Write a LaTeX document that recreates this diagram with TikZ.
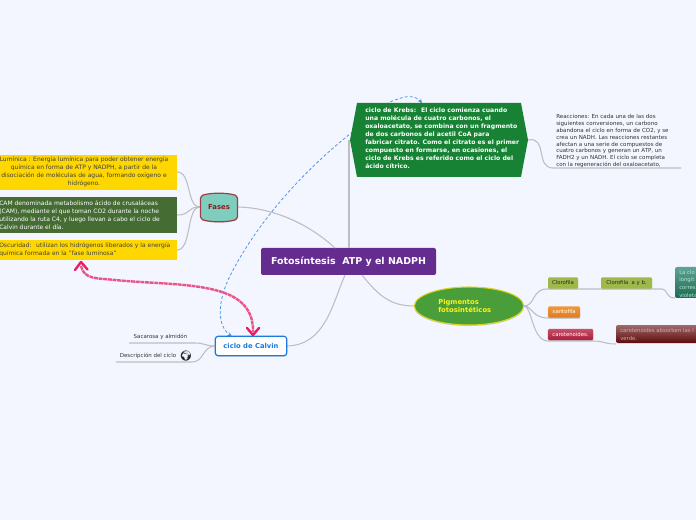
\documentclass[tikz,border=0pt]{standalone}
\usepackage{fontspec}
\setmainfont{DejaVu Sans}
\newfontfamily\emojifont{Noto Emoji}
\usetikzlibrary{arrows.meta,shapes.geometric,shadows}
\definecolor{bgc}{HTML}{F4F6FF}
\definecolor{conn}{HTML}{BDBDC2}
\definecolor{titlec}{HTML}{652C8F}
\definecolor{krebsc}{HTML}{178234}
\definecolor{yelc}{HTML}{FFD700}
\definecolor{camc}{HTML}{456C33}
\definecolor{tealc}{HTML}{7FCDBE}
\definecolor{redd}{HTML}{8B2020}
\definecolor{pigc}{HTML}{4A9E3A}
\definecolor{pinkc}{HTML}{E8558A}
\definecolor{pinkd}{HTML}{E81E63}
\definecolor{bluec}{HTML}{1C7BE0}
\definecolor{dashc}{HTML}{4F95E8}
\definecolor{olivec}{HTML}{9FB84A}
\definecolor{orgt}{HTML}{EE9A3C}
\definecolor{orgb}{HTML}{E07A1E}
\definecolor{cart}{HTML}{C8506A}
\definecolor{carb}{HTML}{A81E3A}
\definecolor{tealt}{HTML}{5FA394}
\definecolor{tealb}{HTML}{1B6B50}
\definecolor{tealx}{HTML}{BFE0D4}
\definecolor{brnt}{HTML}{A06A6A}
\definecolor{brnb}{HTML}{5C0A0A}
\definecolor{brnx}{HTML}{D8A8A8}
\tikzset{
  link/.style={draw=conn,line width=0.8pt},
  txt/.style={font=\fontsize{4.5pt}{6pt}\selectfont,inner sep=0pt},
  tagbox/.style={rounded corners=1pt,inner sep=0pt,minimum height=8.5pt,font=\fontsize{4pt}{5pt}\selectfont,drop shadow={shadow xshift=0.3pt,shadow yshift=-0.5pt,opacity=0.2}},
  dashl/.style={draw=dashc,line width=0.6pt,dash pattern=on 2.2pt off 1.6pt},
  pinkl/.style={draw=pinkc,line width=1.8pt,dash pattern=on 3pt off 0.5pt},
  pinka/.style={draw=pinkd,line width=1.8pt,line cap=round,line join=round}
}
\begin{document}
\begin{tikzpicture}[x=0.75pt,y=-0.75pt]
\useasboundingbox (0,0) rectangle (696,520);
\clip (0,0) rectangle (696,520);
\fill[bgc] (0,0) rectangle (696,520);

\node[fill=titlec,rounded corners=1.5pt,text=white,inner sep=0pt,minimum width=131.25pt,minimum height=20.25pt,font=\bfseries\fontsize{7.1pt}{9pt}\selectfont] (title) at (348.5,261.5) {Fotosíntesis~ ATP y el NADPH};

\coordinate (fasesE) at (238,207);
\coordinate (krebsE) at (528,140);
\coordinate (calvE) at (287,346);
\coordinate (pigW) at (414,306);
\coordinate (reacS) at (553,168);
\coordinate (reacE) at (681,168);
\coordinate (titleF) at (335,248);
\coordinate (titleK) at (349,248);
\coordinate (titleC) at (345,275);
\coordinate (titleP) at (362,275);
\coordinate (krebsW) at (349,140);

% main connectors
\draw[link] (fasesE) .. controls (275,208) and (310,225) .. (titleF);
\draw[link,line width=1.2pt] (titleK) -- (krebsW);
\draw[link] (titleC) .. controls (332,305) and (325,345) .. (calvE);
\draw[link] (titleP) .. controls (378,295) and (390,306) .. (pigW);
\draw[link] (krebsE) .. controls (548,136) and (535,168) .. (reacS) -- (reacE);

% relationship behind Krebs
\draw[dashl] (231,336) .. controls (216,326) and (217,300) .. (232,272) .. controls (262,215) and (310,165) .. (355,130) .. controls (372,115) and (385,102) .. (398,99) .. controls (409,95) and (416,96) .. (421,102);
\draw[draw=dashc,line width=0.7pt,-{Stealth[length=3.5pt,width=3pt]}] (419.5,100) -- (422,103.5);
\draw[draw=dashc,line width=0.7pt,-{Stealth[length=3.5pt,width=3pt]}] (229,334.5) -- (232,336.5);

% Krebs node
\fill[krebsc] (350,140) -- (357,103) -- (521,103) -- (528,140) -- (521,177) -- (357,177) -- cycle;
\node[txt,text=white,anchor=north west,align=left,font=\bfseries\fontsize{4.6pt}{6pt}\selectfont] (krebs) at (365,107.5) {ciclo de Krebs:~ El ciclo comienza cuando\\una molécula de cuatro carbonos, el\\oxaloacetato, se combina con un fragmento\\de dos carbonos del acetil CoA para\\fabricar citrato. Como el citrato es el primer\\compuesto en formarse, en ocasiones, el\\ciclo de Krebs es referido como el ciclo del\\ácido cítrico.};

% Reacciones
\node[txt,text=black!80,anchor=north west,align=left,font=\fontsize{4.15pt}{5.1pt}\selectfont] (reac) at (556,114.5) {Reacciones: En cada una de las dos\\siguientes conversiones, un carbono\\abandona el ciclo en forma de CO2, y se\\crea un NADH. Las reacciones restantes\\afectan a una serie de compuestos de\\cuatro carbonos y generan un ATP, un\\FADH2 y un NADH. El ciclo se completa\\con la regeneración del oxaloacetato,};

% Fases branches
\node[txt,fill=yelc,minimum width=132.75pt,minimum height=26.25pt] (lum) at (88.5,172.5) {};
\node[txt,text=black!75,align=center] (lumt) at (84,172) {Lumínica : Energía lumínica para poder obtener energía\\química en forma de ATP y NADPH, a partir de la\\disociación de moléculas de agua, formando oxígeno e\\hidrógeno.};
\node[txt,fill=camc,minimum width=132.75pt,minimum height=27pt] (cam) at (88.5,215) {};
\node[txt,text=white,anchor=west,align=left] (camt) at (-1,215) {CAM denominada metabolismo ácido de crusaláceas\\(CAM), mediante el que toman CO2 durante la noche\\utilizando la ruta C4, y luego llevan a cabo el ciclo de\\Calvin durante el día.};
\node[txt,fill=yelc,minimum width=132.75pt,minimum height=15pt] (osc) at (88.5,250) {};
\node[txt,text=black!75,anchor=west,align=left] (osct) at (-1,250) {Oscuridad:~ utilizan los hidrógenos liberados y la energía\\química formada en la "fase luminosa"};
\coordinate (lumE) at (177,172);
\coordinate (camE) at (177,215);
\coordinate (oscE) at (177,250);
\coordinate (fasesW) at (200,207);
\draw[link] (fasesW) .. controls (186,207) and (192,172) .. (lumE);
\draw[link] (fasesW) .. controls (186,207) and (192,215) .. (camE);
\draw[link] (fasesW) .. controls (186,207) and (192,250) .. (oscE);

% Fases node
\filldraw[fill=tealc,draw=redd!85,line width=0.9pt,rounded corners=1.5pt,drop shadow={shadow xshift=0.3pt,shadow yshift=-0.7pt,opacity=0.25}] (200.5,196) .. controls (210,192.5) and (228,192.5) .. (237.5,196) -- (237.5,219) .. controls (228,222.5) and (210,222.5) .. (200.5,219) -- cycle;
\node[txt,text=redd,font=\bfseries\fontsize{5.2pt}{6pt}\selectfont] (fases) at (219,207.5) {Fases};

% Calvin
\node[draw=bluec,fill=white,line width=0.9pt,rounded corners=2pt,text=bluec,inner sep=0pt,minimum width=53.5pt,minimum height=14.5pt,font=\bfseries\fontsize{5.1pt}{6pt}\selectfont,drop shadow={shadow xshift=0.4pt,shadow yshift=-0.8pt,opacity=0.3}] (calvin) at (251,346) {ciclo de Calvin};
\node[txt,text=black!80,font=\fontsize{4.1pt}{5pt}\selectfont] (sac) at (160.5,336.5) {Sacarosa y almidón};
\node[txt,text=black!80,font=\fontsize{4.1pt}{5pt}\selectfont] (des) at (148,356) {Descripción del ciclo};
\node[txt,text=black!85,font=\emojifont\fontsize{7.5pt}{8pt}\selectfont] (globe) at (186,356) {\char"1F30D};
\coordinate (sacS) at (129,343);
\coordinate (desS) at (116,362);
\draw[link] (sacS) -- (195,343) .. controls (205,343) and (205,346) .. (calvin.west);
\draw[link] (desS) -- (192,362) .. controls (204,362) and (202,347) .. (calvin.west);

% pink relation
\draw[pinkl] (81,266) .. controls (84,280) and (98,278) .. (115,280) .. controls (145,283) and (175,283) .. (200,287) .. controls (225,291) and (254,299) .. (253,332);
\draw[pinka] (75,270) -- (81,262) -- (87.5,269.5);
\draw[pinka] (247,328) -- (253,335) -- (259,328);

% Pigmentos
\node[ellipse,draw=yellow!85!black,fill=pigc,line width=0.8pt,minimum width=82pt,minimum height=28.5pt,inner sep=0pt,drop shadow={shadow xshift=0pt,shadow yshift=-0.8pt,opacity=0.35}] (pig) at (469,306) {};
\node[txt,text=yellow!90!white,anchor=west,align=left,font=\bfseries\fontsize{5.1pt}{6pt}\selectfont] (pigt) at (438,306) {Pigmentos\\fotosintéticos};

% Right side
\coordinate (pigE) at (524,306);
\coordinate (clotW) at (675,298);
\coordinate (cartW) at (616,344);
\draw[link] (pigE) .. controls (535,306) and (532,289) .. (547,289) -- (662,289) .. controls (668,289) and (665,298) .. (clotW);
\draw[link] (pigE) .. controls (532,306) and (532,318) .. (548,318) -- (580,318);
\draw[link] (pigE) .. controls (532,306) and (532,341) .. (548,341) -- (593,341) .. controls (605,341) and (603,344) .. (cartW);

\node[tagbox,fill=olivec,text=black!85,minimum width=22.5pt] (clo) at (563,283) {Clorofila};
\node[tagbox,fill=olivec,text=black!85,minimum width=38.25pt] (cloab) at (626.5,283) {Clorofila~ a y b.};
\node[tagbox,top color=orgt,bottom color=orgb,text=white,minimum width=24pt] (xan) at (564,312) {xantofila};
\node[tagbox,top color=cart,bottom color=carb,text=white,minimum width=34pt] (car) at (570.5,334.5) {carotenoides.};

\shade[top color=tealt,bottom color=tealb,rounded corners=1.5pt] (675,267) rectangle (710,298);
\node[txt,text=tealx,anchor=north west,align=left,font=\fontsize{4pt}{5.7pt}\selectfont] (clot) at (679,270) {La clo\\longit\\corres\\violeta};
\shade[top color=brnt,bottom color=brnb,rounded corners=1.5pt] (616,325) rectangle (710,343);
\node[txt,text=brnx,anchor=north west,align=left,font=\fontsize{4pt}{6pt}\selectfont] (cartx) at (620,328) {carotenoides absorben las l\\verde.};
\end{tikzpicture}
\end{document}
